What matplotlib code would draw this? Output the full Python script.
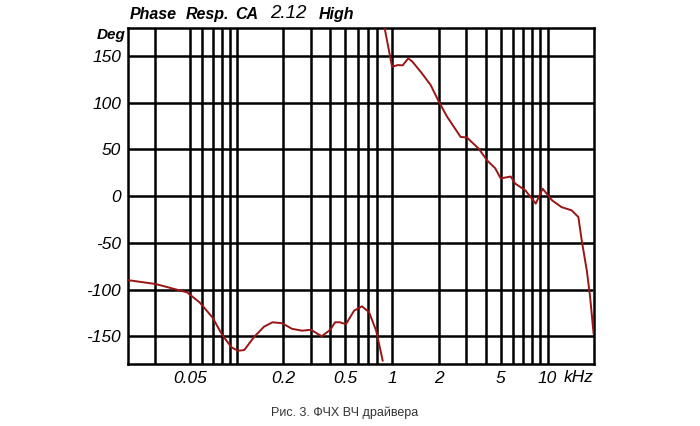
import matplotlib.pyplot as plt

# phase curve (kHz, degrees)
low_f = [0.0202, 0.030, 0.048, 0.058, 0.070, 0.081, 0.093, 0.102, 0.112, 0.129,
         0.150, 0.170, 0.196, 0.227, 0.264, 0.300, 0.353, 0.400, 0.430, 0.460,
         0.505, 0.570, 0.640, 0.710, 0.790, 0.870]
low_ph = [-90, -94, -103, -114, -130, -149, -162, -165.5, -164.7, -151,
          -139.7, -135, -136, -142, -144, -143, -150, -143, -135, -135,
          -137, -122.5, -118, -124, -144, -176]

high_f = [0.895, 1.0, 1.088, 1.17, 1.27, 1.35, 1.53, 1.77, 2.0, 2.26,
          2.76, 3.03, 3.6, 4.1, 4.6, 5.0, 5.8, 6.2, 7.2, 8.4,
          9.3, 10.7, 12.3, 14.3, 15.8, 16.6, 17.9, 18.8, 19.8, 19.9, 20.0]
high_ph = [180, 138.5, 140.3, 140, 147.5, 144, 133, 119, 101, 85,
           63.4, 62.8, 51, 38, 30, 19, 21, 13.4, 6.2, -8,
           8, -4.5, -11.7, -15.2, -22.4, -47.4, -79.6, -108, -147.5, -125, -101]

grid_f = [0.03, 0.05, 0.06, 0.07, 0.08, 0.09, 0.1, 0.2, 0.3, 0.4, 0.5, 0.6, 0.7, 0.8,
          1, 2, 3, 4, 5, 6, 7, 8, 9, 10]
grid_deg = [-150, -100, -50, 0, 50, 100, 150]
xtick_f = [0.05, 0.2, 0.5, 1, 2, 5, 10]
xtick_lab = ['0.05', '0.2', '0.5', '1', '2', '5', '10']

plt.rcParams['font.family'] = ['Liberation Sans', 'DejaVu Sans']

fig = plt.figure(figsize=(7, 4.26), dpi=100)
ax = fig.add_axes([0.1829, 0.1448, 0.6661, 0.7895])
ax.set_xscale('log')
ax.set_xlim(0.02, 20)
ax.set_ylim(-180, 180)

for f in grid_f:
    ax.axvline(f, color='black', lw=1.8, zorder=1)
for d in grid_deg:
    ax.axhline(d, color='black', lw=1.8, zorder=1)

ax.plot(low_f, low_ph, color='#9b1515', lw=1.4, zorder=3)
ax.plot(high_f, high_ph, color='#9b1515', lw=1.4, zorder=3)

for s in ax.spines.values():
    s.set_linewidth(1.8)

ax.minorticks_off()
ax.set_xticks(xtick_f)
ax.set_xticklabels(xtick_lab)
ax.set_yticks(grid_deg)
ax.set_yticklabels([str(d) for d in grid_deg])
ax.tick_params(length=0, labelsize=12.5, pad=5)
for lab in ax.get_xticklabels() + ax.get_yticklabels():
    lab.set_style('italic')

# units
fig.text(0.805, 0.115, 'kHz', fontsize=12.5, style='italic', ha='left', va='center')
ax.text(-0.005, 1.0, 'Deg', transform=ax.transAxes, fontsize=11,
        style='italic', weight='bold', ha='right', va='top')

# title
fig.text(0.1857, 0.966, 'Phase', fontsize=11.5, style='italic', weight='bold', va='center')
fig.text(0.2657, 0.966, 'Resp.', fontsize=11.5, style='italic', weight='bold', va='center')
fig.text(0.3357, 0.966, 'CA', fontsize=11.5, style='italic', weight='bold', va='center')
fig.text(0.3857, 0.968, '2.12', fontsize=13.5, style='italic', va='center')
fig.text(0.4557, 0.966, 'High', fontsize=11.5, style='italic', weight='bold', va='center')

fig.text(0.493, 0.030, 'Рис. 3. ФЧХ ВЧ драйвера', fontsize=9, color='#333333',
         ha='center', va='center')

fig.savefig('out.png', dpi=100)
